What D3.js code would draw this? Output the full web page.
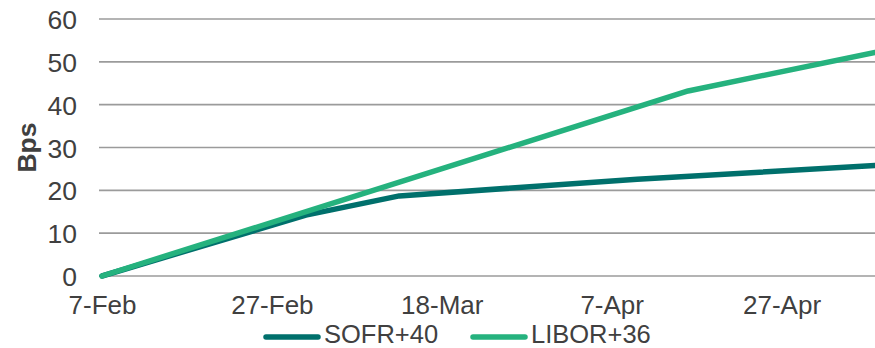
<!DOCTYPE html>
<html>
<head>
<meta charset="utf-8">
<script src="https://cdn.jsdelivr.net/npm/d3@7"></script>
<style>
  html, body { margin: 0; padding: 0; background: #ffffff; }
  svg { display: block; font-family: "Liberation Sans", Arial, sans-serif; }
</style>
</head>
<body>
<svg id="chart" width="875" height="348"></svg>
<script>
// Spread over benchmark, in basis points (2020)
const sofrDates = ["2020-02-07", "2020-03-02", "2020-03-13", "2020-04-10", "2020-05-08"];
const sofrValues = [0, 14.2, 18.7, 22.6, 25.8];
const liborDates = ["2020-02-07", "2020-04-16", "2020-05-08"];
const liborValues = [0, 43.2, 52.2];
const seriesNames = ["SOFR+40", "LIBOR+36"];
const seriesColors = ["#00706c", "#25b27e"];
const xTickLabels = ["7-Feb", "27-Feb", "18-Mar", "7-Apr", "27-Apr"];
const xTickDates = ["2020-02-07", "2020-02-27", "2020-03-18", "2020-04-07", "2020-04-27"];
const yTicks = [0, 10, 20, 30, 40, 50, 60];
const yLabel = "Bps";

const parse = d3.utcParse("%Y-%m-%d");
const svg = d3.select("#chart");

const x = d3.scaleUtc()
  .domain([parse("2020-02-07"), parse("2020-05-08")])
  .range([102, 875]);
const y = d3.scaleLinear().domain([0, 60]).range([276, 19]);

const textColor = "#404040";
const fontSize = 26.5;

// horizontal gridlines
svg.append("g")
  .selectAll("line")
  .data(yTicks)
  .join("line")
  .attr("x1", 99).attr("x2", 875)
  .attr("y1", d => y(d)).attr("y2", d => y(d))
  .attr("stroke", "#9b9b9b")
  .attr("stroke-width", 1.6);

// y axis labels
const yAxis = d3.axisLeft(y).tickValues(yTicks).tickSize(0).tickPadding(0);
const gy = svg.append("g").attr("transform", "translate(77,0)").call(yAxis);
gy.select(".domain").remove();
gy.selectAll("text")
  .attr("font-size", fontSize)
  .attr("font-family", "Liberation Sans, Arial, sans-serif")
  .attr("fill", textColor)
  .attr("dy", "0.36em");

// x axis labels
const xAxis = d3.axisBottom(x)
  .tickValues(xTickDates.map(parse))
  .tickFormat((d, i) => xTickLabels[i])
  .tickSize(0).tickPadding(0);
const gx = svg.append("g").attr("transform", "translate(0,295.5)").call(xAxis);
gx.select(".domain").remove();
gx.selectAll("text")
  .attr("font-size", 26)
  .attr("font-family", "Liberation Sans, Arial, sans-serif")
  .attr("fill", textColor)
  .attr("dy", "0.71em");

// y axis title
svg.append("text")
  .attr("transform", `translate(36,${y(30)}) rotate(-90)`)
  .attr("text-anchor", "middle")
  .attr("font-size", 26.5)
  .attr("font-weight", "bold")
  .attr("fill", textColor)
  .text(yLabel);

// series lines
const line = d3.line().x(d => x(d.date)).y(d => y(d.value));
const series = [
  sofrDates.map((d, i) => ({ date: parse(d), value: sofrValues[i] })),
  liborDates.map((d, i) => ({ date: parse(d), value: liborValues[i] }))
];
svg.append("g")
  .selectAll("path")
  .data(series)
  .join("path")
  .attr("d", line)
  .attr("fill", "none")
  .attr("stroke", (d, i) => seriesColors[i])
  .attr("stroke-width", 5.5)
  .attr("stroke-linejoin", "round")
  .attr("stroke-linecap", "round");

// legend
const legendX = [266, 473];
const legend = svg.append("g")
  .selectAll("g")
  .data(seriesNames)
  .join("g")
  .attr("transform", (d, i) => `translate(${legendX[i]},337)`);
legend.append("line")
  .attr("x1", 0).attr("x2", 52)
  .attr("stroke", (d, i) => seriesColors[i])
  .attr("stroke-width", 5.5)
  .attr("stroke-linecap", "round");
legend.append("text")
  .attr("x", 58)
  .attr("y", 5.5)
  .attr("font-size", 25.5)
  .attr("fill", textColor)
  .text(d => d);
</script>
</body>
</html>
